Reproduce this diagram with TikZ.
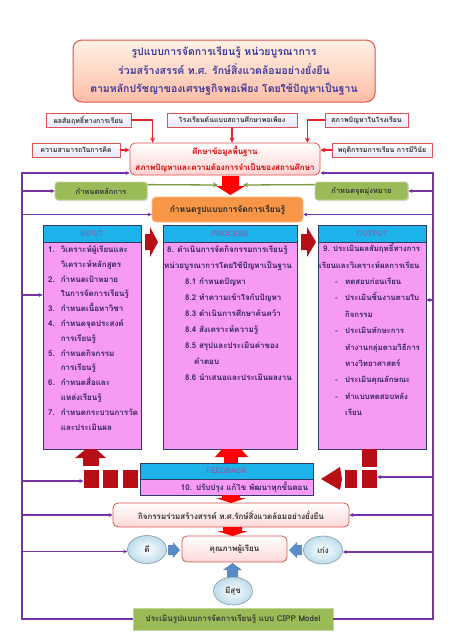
\documentclass[tikz,border=0pt]{standalone}
\usepackage{fontspec}
\setmainfont[Script=Thai]{Loma}
\usepackage{xcolor}
\usepackage{tikz}
\usetikzlibrary{positioning, shapes, arrows.meta, calc, shadows}

\definecolor{titleink}{HTML}{3B3A9C}
\definecolor{boxred}{HTML}{D8544E}
\definecolor{linkred}{HTML}{E4252B}
\definecolor{blockred}{HTML}{B80F16}
\definecolor{loopviolet}{HTML}{7434A6}
\definecolor{leafgreen}{HTML}{9BBB59}
\definecolor{stemgreen}{HTML}{79983E}
\definecolor{capcyan}{HTML}{1EB2EA}
\definecolor{panelpink}{HTML}{F69AF4}
\definecolor{panelnavy}{HTML}{2D3B66}
\definecolor{panelink}{HTML}{33235E}
\definecolor{capink}{HTML}{A04C9C}
\definecolor{pushblue}{HTML}{5A8BC6}
\definecolor{bubblesky}{HTML}{BCDCEA}
\definecolor{formorange}{HTML}{F79646}

\begin{document}
\begin{tikzpicture}[x=1pt, y=-1pt,
    titlebox/.style={draw=boxred, line width=1pt, rounded corners=9pt, top color=orange!10, bottom color=orange!50!red!35, align=center, text=titleink, inner sep=0pt, font=\fontsize{10.5}{18.5}\selectfont\bfseries},
    srcbox/.style={draw=boxred, line width=0.8pt, top color=white, bottom color=blue!10, text=black!80, font=\fontsize{7}{8}\selectfont\bfseries, minimum height=14, inner sep=0pt, drop shadow={opacity=0.25, shadow xshift=1pt, shadow yshift=-1pt}},
    basebox/.style={draw=boxred, line width=0.8pt, rounded corners=5pt, top color=white, bottom color=red!18, text=red!85!black, align=center, inner sep=0pt, font=\fontsize{8}{16}\selectfont\bfseries},
    leafbox/.style={fill=leafgreen, draw=leafgreen!60!white, line width=0.8pt, rounded corners=3pt, text=black!80, inner sep=0pt, font=\fontsize{7.5}{9}\selectfont\bfseries, drop shadow={opacity=0.25, shadow xshift=1pt, shadow yshift=-1pt}},
    formbox/.style={fill=formorange, draw=formorange!60!white, line width=0.8pt, rounded corners=4pt, text=black!85, inner sep=0pt, font=\fontsize{8.5}{10}\selectfont\bfseries},
    capbar/.style={fill=capcyan, draw=panelnavy, line width=0.8pt, text=capink, inner sep=0pt, minimum height=17, font=\fontsize{7.5}{9}\selectfont},
    panel/.style={fill=panelpink, draw=panelnavy, line width=0.8pt, inner sep=0pt},
    listtext/.style={text=panelink, align=left, inner sep=0pt},
    pinkbox/.style={draw=boxred, line width=0.8pt, rounded corners=5pt, top color=white, bottom color=red!15, text=black!80, inner sep=0pt, font=\fontsize{8}{10}\selectfont\bfseries},
    bubble/.style={ellipse, draw=bubblesky!70!black, line width=0.6pt, inner color=white, outer color=bubblesky, minimum width=39, minimum height=28, inner sep=0pt, text=black!80, font=\fontsize{8}{10}\selectfont\bfseries},
    redsq/.style={fill=blockred, minimum width=15, minimum height=18, inner sep=0pt},
    redline/.style={draw=linkred, line width=1.3pt, -{Stealth[length=5pt, width=5pt]}},
    greenline/.style={draw=stemgreen, line width=1.3pt, -{Stealth[length=5pt, width=5pt]}},
    feed/.style={draw=loopviolet, line width=1.2pt, -{Stealth[length=4pt, width=4pt]}},
    ]
  \fill[white] (0,0) rectangle (452,640);
  \useasboundingbox (0,0) rectangle (452,640);

  % Title
  \node[titlebox, minimum width=302, minimum height=62] (title) at (224,71)
    {รูปแบบการจัดการเรียนรู้ หน่วยบูรณาการ\\ร่วมสร้างสรรค์ ท.ศ. รักษ์สิ่งแวดล้อมอย่างยั่งยืน\\ตามหลักปรัชญาของเศรษฐกิจพอเพียง โดยใช้ปัญหาเป็นฐาน};

  % Sources
  \node[srcbox, minimum width=85] (res) at (88.5,120) {ผลสัมฤทธิ์ทางการเรียน};
  \node[srcbox, minimum width=130] (model) at (232,120) {โรงเรียนต้นแบบสถานศึกษาพอเพียง};
  \node[srcbox, minimum width=83] (prob) at (366.5,120) {สภาพปัญหาในโรงเรียน};
  \node[srcbox, minimum width=88] (think) at (76,150) {ความสามารถในการคิด};
  \node[srcbox, minimum width=100] (behav) at (382,150) {พฤติกรรมการเรียน การมีวินัย};
  \node[basebox, minimum width=190, minimum height=32] (basic) at (225,159)
    {ศึกษาข้อมูลพื้นฐาน\\สภาพปัญหาและความต้องการจำเป็นของสถานศึกษา};

  \draw[redline] (res.east) -| ([xshift=23pt]basic.north west);
  \draw[redline] (model.south) -- (model.south |- basic.north);
  \draw[redline] (prob.west) -| ([xshift=-13pt]basic.north east);
  \draw[redline] (think.east) -- (think.east -| basic.west);
  \draw[redline] (behav.west) -- (behav.west -| basic.east);

  % Principle and aim
  \node[leafbox, minimum width=92, minimum height=18] (princ) at (101,191) {กำหนดหลักการ};
  \node[leafbox, minimum width=93, minimum height=18] (aim) at (361.5,191) {กำหนดจุดมุ่งหมาย};
  \node[formbox, minimum width=151, minimum height=25] (form) at (227.5,209.5) {กำหนดรูปแบบการจัดการเรียนรู้};
  \coordinate (gl) at (218,185);
  \coordinate (gr) at (243,185);
  \draw[greenline] ([yshift=-3pt]princ.north east) -- (gl);
  \draw[greenline] ([yshift=-3pt]aim.north west) -- (gr);
  \fill[red] (222,176) -- (239,176) -- (239,186) -- (245,186) -- (230.5,195) -- (216,186) -- (222,186) -- cycle;

  % Input, process, output
  \node[capbar, minimum width=98] (inhead) at (92,233.5) {INPUT};
  \node[panel, minimum width=98, minimum height=207] (inbody) at (92,345.5) {};
  \node[capbar, minimum width=134] (prochead) at (230,233.5) {PROCESS};
  \node[panel, minimum width=134, minimum height=207] (procbody) at (230,345.5) {};
  \node[capbar, minimum width=108] (outhead) at (372,233.5) {OUTPUT};
  \node[panel, minimum width=108, minimum height=207] (outbody) at (372,345.5) {};

  \node[listtext, anchor=north west, font=\fontsize{8}{14.8}\selectfont\bfseries] (inlist) at (48,242)
    {\begin{tabular}{@{}l@{\hspace{6pt}}l@{}}
      1. & วิเคราะห์ผู้เรียนและ\\
         & วิเคราะห์หลักสูตร\\
      2. & กำหนดเป้าหมาย\\
         & ในการจัดการเรียนรู้\\
      3. & กำหนดเนื้อหาวิชา\\
      4. & กำหนดจุดประสงค์\\
         & การเรียนรู้\\
      5. & กำหนดกิจกรรม\\
         & การเรียนรู้\\
      6. & กำหนดสื่อและ\\
         & แหล่งเรียนรู้\\
      7. & กำหนดกระบวนการวัด\\
         & และประเมินผล
    \end{tabular}};
  \node[listtext, anchor=north west, font=\fontsize{8}{16}\selectfont\bfseries] (proclist) at (164,241)
    {\begin{tabular}{@{}l@{}}
      \hspace*{3pt}8. ดำเนินการจัดกิจกรรมการเรียนรู้\\
      หน่วยบูรณาการโดยใช้ปัญหาเป็นฐาน\\
      \hspace*{21pt}8.1 กำหนดปัญหา\\
      \hspace*{21pt}8.2 ทำความเข้าใจกับปัญหา\\
      \hspace*{21pt}8.3 ดำเนินการศึกษาค้นคว้า\\
      \hspace*{21pt}8.4 สังเคราะห์ความรู้\\
      \hspace*{21pt}8.5 สรุปและประเมินค่าของ\\
      \hspace*{30pt}คำตอบ\\
      \hspace*{21pt}8.6 นำเสนอและประเมินผลงาน
    \end{tabular}};
  \node[listtext, anchor=north west, font=\fontsize{7.8}{16.4}\selectfont\bfseries] (outlist) at (319,240)
    {\begin{tabular}{@{}l@{}}
      \hspace*{4pt}9. ประเมินผลสัมฤทธิ์ทางการ\\
      เรียนและวิเคราะห์ผลการเรียน\\
      \hspace*{16pt}\makebox[10pt][l]{-}ทดสอบก่อนเรียน\\
      \hspace*{16pt}\makebox[10pt][l]{-}ประเมินชิ้นงานตามใบ\\
      \hspace*{26pt}กิจกรรม\\
      \hspace*{16pt}\makebox[10pt][l]{-}ประเมินทักษะการ\\
      \hspace*{26pt}ทำงานกลุ่มตามวิธีการ\\
      \hspace*{26pt}ทางวิทยาศาสตร์\\
      \hspace*{16pt}\makebox[10pt][l]{-}ประเมินคุณลักษณะ\\
      \hspace*{16pt}\makebox[10pt][l]{-}ทำแบบทดสอบหลัง\\
      \hspace*{26pt}เรียน
    \end{tabular}};

  \fill[blockred] (145,234) -- (150,234) -- (150,227) -- (158,242) -- (150,257) -- (150,250) -- (145,250) -- cycle;
  \fill[blockred] (301,234) -- (307,234) -- (307,227) -- (316,242) -- (307,257) -- (307,250) -- (301,250) -- cycle;

  % Feedback
  \node[capbar, minimum width=173, minimum height=16] (fbhead) at (226.5,471) {FEEDBACK};
  \node[panel, minimum width=173, minimum height=16, text width=163, inner xsep=5pt, align=right,
        text=panelink, font=\fontsize{8}{10}\selectfont\bfseries] (fbbody) at (226.5,487) {10. ปรับปรุง แก้ไข พัฒนาทุกขั้นตอน};

  \node[redsq] (sq1) at (91,479) {};
  \node[redsq] (sq2) at (110.5,479) {};
  \node[redsq] (sq3) at (130.5,479) {};
  \fill[blockred] (83,458) rectangle (99,466);
  \fill[blockred] (86,449) -- (96,449) -- (106,458) -- (75,458) -- cycle;
  \fill[red] (224,456) rectangle (238,463);
  \fill[red] (222,449) -- (241,449) -- (248,457) -- (215,457) -- cycle;
  \node[redsq, minimum width=12] (sq4) at (351,479) {};
  \node[redsq] (sq5) at (369.5,479) {};
  \fill[blockred] (362,449) rectangle (377,467);
  \fill[blockred] (340,467) -- (342,479) -- (340,490) -- (321,479) -- cycle;

  % Activity and learners
  \node[pinkbox, minimum width=236, minimum height=24] (act) at (231,515) {กิจกรรมร่วมสร้างสรรค์ ท.ศ.รักษ์สิ่งแวดล้อมอย่างยั่งยืน};
  \fill[red] (222,495) -- (240,495) -- (240,498) -- (246,498) -- (231,503) -- (216,498) -- (222,498) -- cycle;
  \node[pinkbox, minimum width=105, minimum height=26] (qual) at (234.5,549) {คุณภาพผู้เรียน};
  \fill[red] (223,527) -- (242,527) -- (242,531) -- (248,531) -- (232.5,536) -- (217,531) -- (223,531) -- cycle;

  \node[bubble] (good) at (147,549.5) {ดี};
  \node[bubble] (smart) at (323,550) {เก่ง};
  \node[bubble] (happy) at (233,591) {มีสุข};
  \fill[pushblue] (168,545) -- (173,545) -- (173,542) -- (180,550) -- (173,558) -- (173,555) -- (168,555) -- cycle;
  \fill[pushblue] (302,545) -- (297,545) -- (297,542) -- (289,550) -- (297,558) -- (297,555) -- (302,555) -- cycle;
  \fill[pushblue] (227,577) -- (227,570) -- (223,570) -- (232.5,563) -- (242,570) -- (238,570) -- (238,577) -- cycle;

  \node[leafbox, rounded corners=0pt, minimum width=200, minimum height=22, font=\fontsize{8}{10}\selectfont\bfseries] (cipp) at (233,619)
    {ประเมินรูปแบบการจัดการเรียนรู้ แบบ CIPP Model};

  % Loop
  \coordinate (fl) at (22,173);
  \coordinate (fr) at (433,173);
  \coordinate (inpin) at (22,295);
  \coordinate (outpin) at (433,300);
  \draw[feed] (cipp.west) -| (fl) -- (fl -| basic.west);
  \draw[feed] (cipp.east) -| (fr) -- (fr -| basic.east);
  \draw[feed] (princ.west -| fl) -- (princ.west);
  \draw[feed] (aim.east -| fr) -- (aim.east);
  \draw[feed] ([yshift=-5pt]form.west -| fl) -- ([yshift=-5pt]form.west);
  \draw[feed] ([yshift=-5pt]form.east -| fr) -- ([yshift=-5pt]form.east);
  \draw[feed] (inpin) -- (inpin -| inbody.west);
  \draw[feed] (outpin) -- (outpin -| outbody.east);
  \draw[feed] ([yshift=-2pt]sq1.west -| fl) -- ([yshift=-2pt]sq1.west);
  \draw[feed] ([yshift=2pt]sq5.east -| fr) -- ([yshift=2pt]sq5.east);
  \draw[feed] (act.west -| fl) -- (act.west);
  \draw[feed] (act.east -| fr) -- (act.east);
  \draw[feed] ([yshift=-2pt]good.west -| fl) -- ([yshift=-2pt]good.west);
  \draw[feed] ([yshift=-2pt]smart.east -| fr) -- ([yshift=-2pt]smart.east);
\end{tikzpicture}
\end{document}
